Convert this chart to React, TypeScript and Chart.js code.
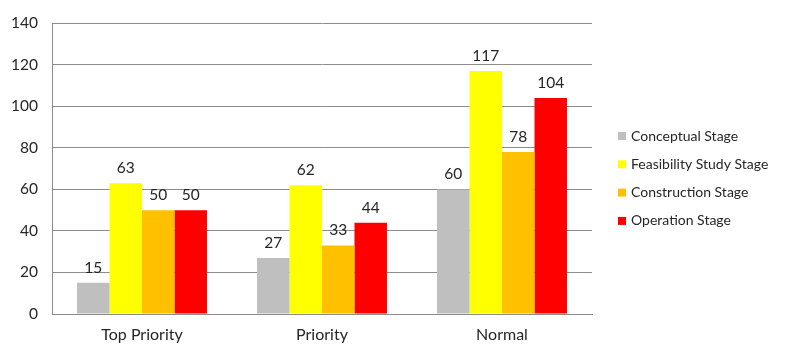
import React, { useEffect, useRef } from "react";
import { Chart, registerables } from "chart.js";

Chart.register(...registerables);

const categories = ["Top Priority", "Priority", "Normal"];
const seriesNames = ["Conceptual Stage", "Feasibility Study Stage", "Construction Stage", "Operation Stage"];
const conceptual = [15, 27, 60];
const feasibility = [63, 62, 117];
const construction = [50, 33, 78];
const operation = [50, 44, 104];
const colors = ["#BFBFBF", "#FFFF00", "#FFC000", "#FF0000"];
const yTicks = [0, 20, 40, 60, 80, 100, 120, 140];

const FONT = "Lato, 'Open Sans', sans-serif";

const labelsPlugin = {
  id: "customLabels",
  afterDatasetsDraw(chart: any) {
    const ctx = chart.ctx;
    ctx.save();
    ctx.font = `15.5px ${FONT}`;
    ctx.fillStyle = "#262626";
    ctx.textAlign = "center";
    ctx.textBaseline = "alphabetic";
    chart.data.datasets.forEach((ds: any, i: number) => {
      const meta = chart.getDatasetMeta(i);
      meta.data.forEach((bar: any, j: number) => {
        ctx.fillText(String(ds.data[j]), bar.x, bar.y - 10);
      });
    });
    // legend
    ctx.font = `14px ${FONT}`;
    ctx.textAlign = "left";
    ctx.textBaseline = "middle";
    const x0 = chart.chartArea.right + 26;
    const y0 = 136;
    chart.data.datasets.forEach((ds: any, i: number) => {
      const y = y0 + i * 28.3;
      ctx.fillStyle = ds.backgroundColor;
      ctx.fillRect(x0, y - 4, 8, 8);
      ctx.fillStyle = "#262626";
      ctx.fillText(ds.label, x0 + 13, y);
    });
    ctx.restore();
  },
};

export default function App() {
  const ref = useRef<HTMLCanvasElement>(null);
  useEffect(() => {
    document.body.style.margin = "0";
    const values = [conceptual, feasibility, construction, operation];
    const chart = new Chart(ref.current!, {
      type: "bar",
      data: {
        labels: categories,
        datasets: seriesNames.map((name, i) => ({
          label: name,
          data: values[i],
          backgroundColor: colors[i],
          borderWidth: 0,
          categoryPercentage: 0.722,
          barPercentage: 1,
        })),
      },
      options: {
        animation: false,
        responsive: false,
        layout: { padding: { top: 18, right: 195, left: 0, bottom: 0 } },
        plugins: { legend: { display: false }, tooltip: { enabled: false } },
        scales: {
          x: {
            grid: { display: false, drawTicks: false },
            border: { color: "#8C8C8C", width: 1 },
            ticks: { color: "#262626", font: { family: FONT, size: 16 }, padding: 11 },
            afterFit: (s: any) => { s.height = 42; },
          },
          y: {
            min: 0,
            max: 140,
            afterBuildTicks: (s: any) => { s.ticks = yTicks.map((v) => ({ value: v })); },
            grid: { color: "#8C8C8C", drawTicks: false },
            border: { color: "#8C8C8C", width: 1 },
            ticks: { color: "#262626", font: { family: FONT, size: 15.5 }, padding: 14 },
            afterFit: (s: any) => { s.width = 52; },
          },
        },
      },
      plugins: [labelsPlugin],
    });
    return () => chart.destroy();
  }, []);
  return (
    <div style={{ width: 787, height: 356, background: "#fff" }}>
      <canvas ref={ref} width={787} height={356} style={{ display: "block" }} />
    </div>
  );
}
